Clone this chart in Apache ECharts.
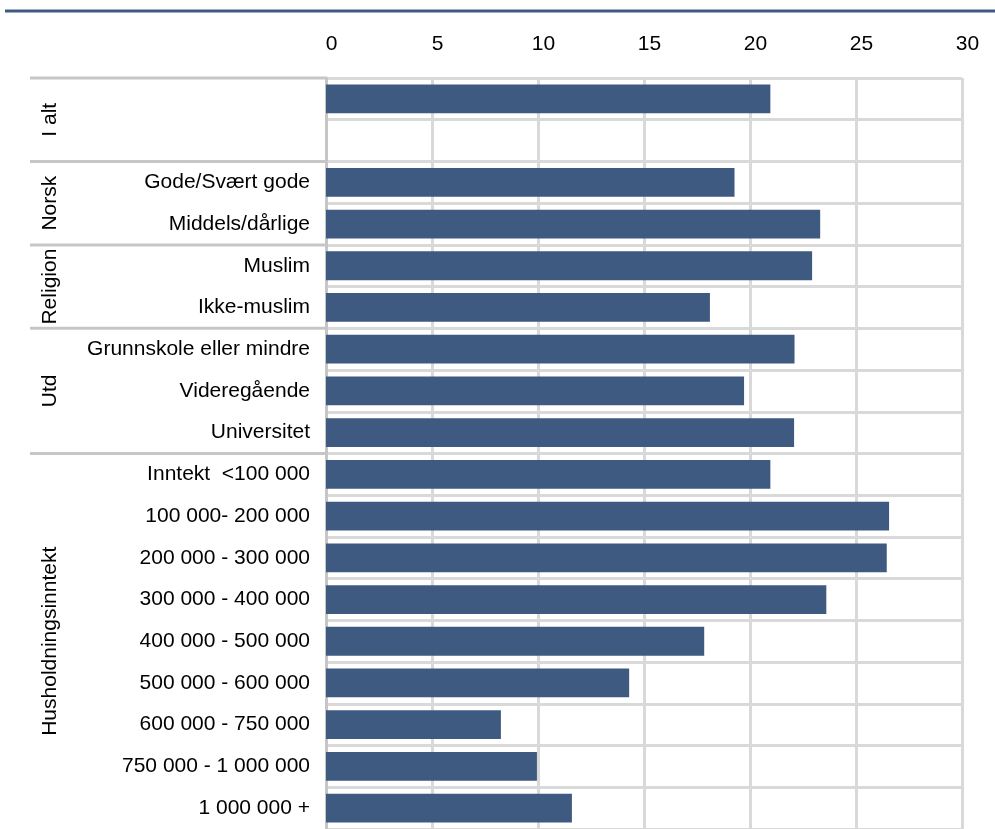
<!DOCTYPE html>
<html>
<head>
<meta charset="utf-8">
<title>Husholdningsinntekt</title>
<script src="https://cdn.jsdelivr.net/npm/echarts@6/dist/echarts.min.js"></script>
<style>
  html, body { margin: 0; padding: 0; background: #fff; }
  #chart { width: 995px; height: 829px; }
</style>
</head>
<body>
<div id="chart"></div>
<script>
// rader (to første: "I alt" + tom rad)
var categories = ['', ' ', 'Gode/Svært gode', 'Middels/dårlige', 'Muslim', 'Ikke-muslim',
  'Grunnskole eller mindre', 'Videregående', 'Universitet', 'Inntekt  <100 000',
  '100 000- 200 000', '200 000 - 300 000', '300 000 - 400 000', '400 000 - 500 000',
  '500 000 - 600 000', '600 000 - 750 000', '750 000 - 1 000 000', '1 000 000 +']
var values = [20.96, null, 19.27, 23.31, 22.93, 18.11, 22.1, 19.72, 22.08, 20.96,
  26.56, 26.45, 23.6, 17.84, 14.3, 8.25, 9.95, 11.6]

var groupNames = ['I alt', 'Norsk', 'Religion', 'Utd', 'Husholdningsinntekt']
var groupStart = [0, 2, 4, 6, 9]
var groupEnd = [2, 4, 6, 9, 18]

var xTicks = [0, 5, 10, 15, 20, 25, 30]

var font = "'Liberation Sans', Arial, sans-serif"
var barColor = '#3f5a80'
var gridColor = '#d9d9d9'
var sepColor = '#c6c6c6'

var chart = echarts.init(document.getElementById('chart'))

chart.setOption({
  animation: false,
  textStyle: { fontFamily: font },
  grid: { left: 326, right: 33, top: 78, height: 752 },
  xAxis: {
    type: 'value',
    position: 'top',
    min: xTicks[0],
    max: xTicks[xTicks.length - 1],
    interval: 5,
    axisLine: { show: false },
    axisTick: { show: false },
    axisLabel: { color: '#000', fontSize: 21, fontFamily: font, margin: 23, padding: [0, 0, 0, 11] },
    splitLine: { lineStyle: { color: gridColor, width: 3 } }
  },
  yAxis: {
    type: 'category',
    inverse: true,
    data: categories,
    axisLine: { lineStyle: { color: sepColor, width: 3 } },
    axisTick: { show: false },
    axisLabel: { color: '#000', fontSize: 21, fontFamily: font, margin: 16 },
    splitLine: { show: true, lineStyle: { color: gridColor, width: 3 } }
  },
  series: [{
    type: 'bar',
    data: values,
    barWidth: '69%',
    itemStyle: { color: barColor },
    silent: true
  }]
})

// gruppeetiketter og skillelinjer til venstre
function bandEdge(i) {
  var c0 = chart.convertToPixel({ yAxisIndex: 0 }, 0)
  var c1 = chart.convertToPixel({ yAxisIndex: 0 }, 1)
  var band = c1 - c0
  return c0 - band / 2 + band * i
}
var axisX = chart.convertToPixel({ xAxisIndex: 0 }, 0)
var graphics = [{
  type: 'line',
  shape: { x1: 5, y1: 11, x2: 995, y2: 11 },
  style: { stroke: '#3e5a82', lineWidth: 3 },
  silent: true
}]
groupNames.forEach(function (name, i) {
  var yTop = bandEdge(groupStart[i])
  var yBot = bandEdge(groupEnd[i])
  graphics.push({
    type: 'line',
    shape: { x1: 30, y1: yTop, x2: axisX, y2: yTop },
    style: { stroke: sepColor, lineWidth: 3 },
    silent: true
  })
  graphics.push({
    type: 'text',
    x: 50,
    y: (yTop + yBot) / 2,
    rotation: Math.PI / 2,
    style: {
      text: name,
      fill: '#000',
      font: '21px ' + font,
      align: 'center',
      verticalAlign: 'middle'
    },
    silent: true
  })
})
chart.setOption({ graphic: graphics })
</script>
</body>
</html>
